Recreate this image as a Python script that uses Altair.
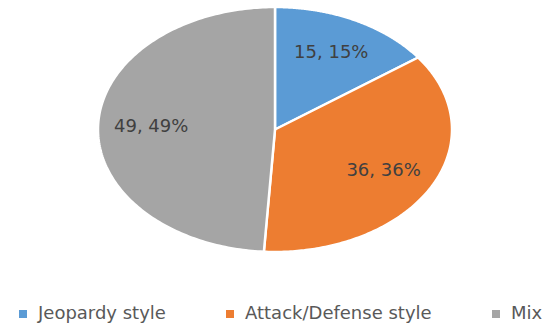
import altair as alt
import pandas as pd

categories = ["Jeopardy style", "Attack/Defense style", "Mix"]
values = [15, 36, 49]
colors = ["#5B9BD5", "#ED7D31", "#A5A5A5"]

df = pd.DataFrame({"category": categories, "value": values,
                   "order": list(range(len(categories)))})

N = 180
xs = alt.Scale(domain=[-1, 1])
ys = alt.Scale(domain=[-1, 1])

base = alt.Chart(df).transform_joinaggregate(
    total="sum(value)"
).transform_window(
    cum="sum(value)", sort=[alt.SortField("order")], frame=[None, 0]
).transform_calculate(
    a0="2*PI*(datum.cum - datum.value)/datum.total",
    a1="2*PI*datum.cum/datum.total",
)

slices = base.transform_calculate(
    idx=f"sequence(0, {N + 3})"
).transform_flatten(["idx"]).transform_calculate(
    ang=f"datum.a0 + (datum.a1 - datum.a0) * clamp((datum.idx - 1) / {N}, 0, 1)",
    rr=f"(datum.idx == 0 || datum.idx == {N + 2}) ? 0 : 1",
).transform_calculate(
    px="datum.rr * sin(datum.ang)",
    py="datum.rr * cos(datum.ang)",
).mark_line(stroke="white", strokeWidth=2.5, strokeJoin="miter").encode(
    x=alt.X("px:Q", scale=xs, axis=None),
    y=alt.Y("py:Q", scale=ys, axis=None),
    order=alt.Order("idx:Q"),
    detail="category:N",
    fill=alt.Fill(
        "category:N",
        scale=alt.Scale(domain=categories, range=colors),
        legend=alt.Legend(
            title=None, orient="none", direction="horizontal",
            legendX=-84, legendY=298,
            symbolType="square", symbolSize=64, symbolStrokeWidth=0,
            labelFont="DejaVu Sans", labelFontSize=18, labelColor="#595959",
            columnPadding=55, labelOffset=6, labelLimit=400, gridAlign="each",
        ),
    ),
)

labels = base.transform_calculate(
    mid="(datum.a0 + datum.a1) / 2",
).transform_calculate(
    lx="0.7 * sin(datum.mid)",
    ly="0.7 * cos(datum.mid)",
    label='datum.value + ", " + round(100 * datum.value / datum.total) + "%"',
).mark_text(font="DejaVu Sans", fontSize=18, color="#404040").encode(
    x=alt.X("lx:Q", scale=xs, axis=None),
    y=alt.Y("ly:Q", scale=ys, axis=None),
    text="label:N",
)

chart = alt.layer(slices, labels).properties(
    width=354, height=245,
    autosize=alt.AutoSizeParams(type="none"),
    padding={"left": 98, "top": 7, "right": 100, "bottom": 71},
).configure_view(stroke=None)

chart.save("out.html", embed_options={"renderer": "svg", "actions": False})
